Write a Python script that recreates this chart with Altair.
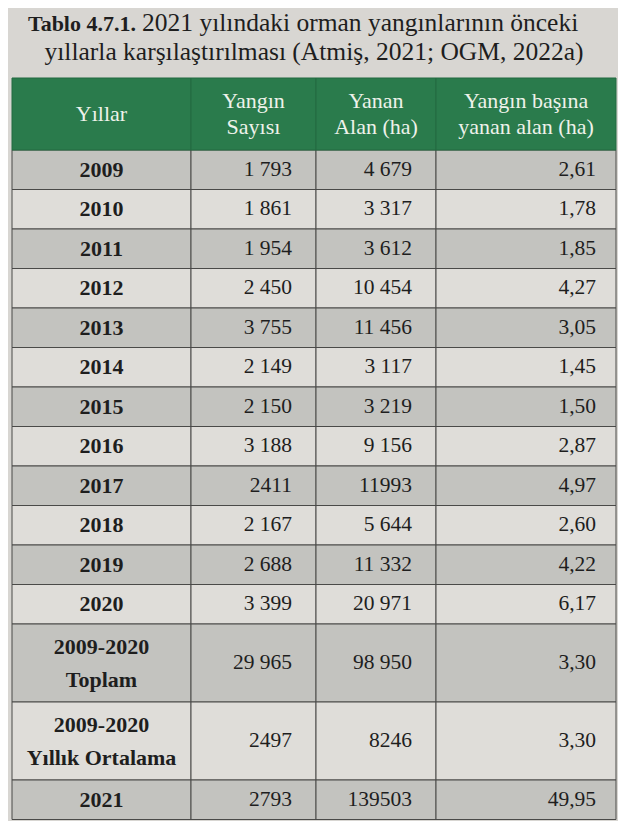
import altair as alt
import pandas as pd

# ---------------- data ----------------
title_bold = "Tablo 4.7.1."
title_rest = "2021 yılındaki orman yangınlarının önceki"
title_line2 = "yıllarla karşılaştırılması (Atmiş, 2021; OGM, 2022a)"

headers = ["Yıllar", "Yangın\nSayısı", "Yanan\nAlan (ha)", "Yangın başına\nyanan alan (ha)"]

years = ["2009", "2010", "2011", "2012", "2013", "2014", "2015", "2016",
         "2017", "2018", "2019", "2020",
         "2009-2020\nToplam", "2009-2020\nYıllık Ortalama", "2021"]
fire_counts = ["1 793", "1 861", "1 954", "2 450", "3 755", "2 149", "2 150", "3 188",
               "2411", "2 167", "2 688", "3 399", "29 965", "2497", "2793"]
burned_area = ["4 679", "3 317", "3 612", "10 454", "11 456", "3 117", "3 219", "9 156",
               "11993", "5 644", "11 332", "20 971", "98 950", "8246", "139503"]
area_per_fire = ["2,61", "1,78", "1,85", "4,27", "3,05", "1,45", "1,50", "2,87",
                 "4,97", "2,60", "4,22", "6,17", "3,30", "3,30", "49,95"]

# ---------------- layout (page pixel coordinates) ----------------
W, H = 610, 813
col_edges = [12, 191, 316, 436, 616]
header_top, header_h = 78, 72
row_h, double_h = 39.5, 78
num_pad = [0, 24, 24, 20]
head_lh, year_lh = 26, 33
FONT = "Liberation Serif"


def first_line_y(center, text, lh):
    n = text.count("\n") + 1
    return center - (n - 1) * lh / 2


cells, texts = [], []
for c in range(4):
    cells.append(dict(x=col_edges[c], x2=col_edges[c + 1], y=header_top,
                      y2=header_top + header_h, kind="header"))
    texts.append(dict(x=(col_edges[c] + col_edges[c + 1]) / 2,
                      y=first_line_y(header_top + header_h / 2, headers[c], head_lh),
                      text=headers[c], role="header"))

y = header_top + header_h
for i, label in enumerate(years):
    h = double_h if "\n" in label else row_h
    kind = "gray" if i % 2 == 0 else "white"
    for c in range(4):
        cells.append(dict(x=col_edges[c], x2=col_edges[c + 1], y=y, y2=y + h, kind=kind))
    texts.append(dict(x=(col_edges[0] + col_edges[1]) / 2,
                      y=first_line_y(y + h / 2, label, year_lh),
                      text=label, role="year"))
    for c, series in zip([1, 2, 3], [fire_counts, burned_area, area_per_fire]):
        texts.append(dict(x=col_edges[c + 1] - num_pad[c], y=y + h / 2,
                          text=series[i], role="num"))
    y += h

cells_df = pd.DataFrame(cells)
texts_df = pd.DataFrame(texts)
title_df = pd.DataFrame([
    dict(x=136, y=31, text=title_bold, role="tbold"),
    dict(x=142, y=31, text=title_rest, role="trest"),
    dict(x=314, y=60, text=title_line2, role="tline2"),
])

xs = alt.Scale(domain=[8, 8 + W], range=[0, W])
ys = alt.Scale(domain=[8, 8 + H], range=[0, H])
X = lambda f: alt.X(f, type="quantitative", scale=xs, axis=None)
Y = lambda f: alt.Y(f, type="quantitative", scale=ys, axis=None)

body_cells = alt.Chart(cells_df).transform_filter("datum.kind != 'header'").mark_rect(
    stroke="#4a4a48", strokeWidth=1
).encode(
    x=X("x"), x2="x2", y=Y("y"), y2="y2",
    fill=alt.Fill("kind:N", scale=alt.Scale(domain=["gray", "white"],
                                            range=["#c3c3bf", "#dfddd9"]), legend=None),
)
head_cells = alt.Chart(cells_df).transform_filter("datum.kind == 'header'").mark_rect(
    stroke="#236a40", strokeWidth=1, fill="#2a7b4c"
).encode(x=X("x"), x2="x2", y=Y("y"), y2="y2")

head_text = alt.Chart(texts_df).transform_filter("datum.role == 'header'").mark_text(
    font=FONT, fontSize=22, color="#eef2ea", align="center", baseline="middle",
    lineBreak="\n", lineHeight=head_lh
).encode(x=X("x"), y=Y("y"), text="text:N")

year_text = alt.Chart(texts_df).transform_filter("datum.role == 'year'").mark_text(
    font=FONT, fontSize=22, fontWeight="bold", color="#1e1e1e", align="center",
    baseline="middle", lineBreak="\n", lineHeight=year_lh
).encode(x=X("x"), y=Y("y"), text="text:N")

num_text = alt.Chart(texts_df).transform_filter("datum.role == 'num'").mark_text(
    font=FONT, fontSize=21.5, color="#1e1e1e", align="right", baseline="middle"
).encode(x=X("x"), y=Y("y"), text="text:N")

t_bold = alt.Chart(title_df).transform_filter("datum.role == 'tbold'").mark_text(
    font=FONT, fontSize=22, fontWeight="bold", color="#1e1e1e", align="right",
    baseline="alphabetic"
).encode(x=X("x"), y=Y("y"), text="text:N")
t_rest = alt.Chart(title_df).transform_filter("datum.role == 'trest'").mark_text(
    font=FONT, fontSize=25.5, color="#1e1e1e", align="left", baseline="alphabetic"
).encode(x=X("x"), y=Y("y"), text="text:N")
t_line2 = alt.Chart(title_df).transform_filter("datum.role == 'tline2'").mark_text(
    font=FONT, fontSize=25.5, color="#1e1e1e", align="center", baseline="alphabetic"
).encode(x=X("x"), y=Y("y"), text="text:N")

chart = alt.layer(
    body_cells, head_cells, head_text, year_text, num_text, t_bold, t_rest, t_line2
).properties(
    width=W, height=H, background="#d8d6d2", padding=0,
    autosize=alt.AutoSizeParams(type="none")
).configure_view(stroke=None)

chart.save("out.html", embed_options={"renderer": "svg", "actions": False})
